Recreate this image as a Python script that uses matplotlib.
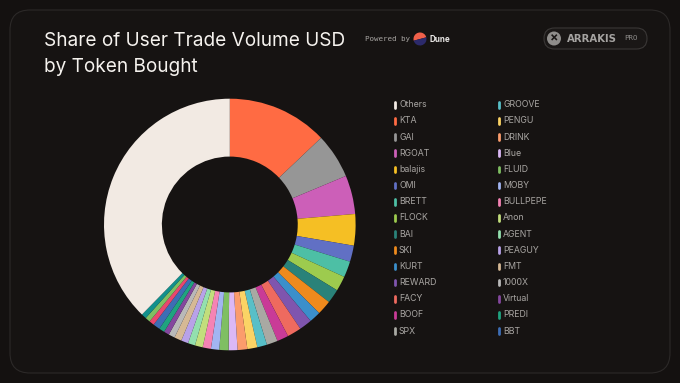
import numpy as np
import matplotlib
matplotlib.use('Agg')
import matplotlib.pyplot as plt
from matplotlib.patches import FancyBboxPatch, Circle, Wedge

# shares in percent, clockwise from 12 o'clock
tokens = ['KTA', 'GAI', 'RGOAT', 'balajis', 'OMI', 'BRETT', 'FLOCK', 'BAI', 'SKI', 'KURT',
          'REWARD', 'FACY', 'BOOF', 'SPX', 'GROOVE', 'PENGU', 'DRINK', 'Blue', 'FLUID', 'MOBY',
          'BULLPEPE', 'Anon', 'AGENT', 'PEAGUY', 'FMT', '1000X', 'Virtual', 'PREDI', 'BBT',
          'x1', 'x2', 'x3', 'Others']
shares = [12.92, 5.78, 4.97, 4.03, 2.08, 2.06, 1.92, 1.81, 1.86, 1.47,
          1.64, 1.81, 1.47, 1.42, 1.25, 1.28, 1.25, 1.14, 1.19, 1.06,
          1.06, 1.0, 0.92, 0.92, 0.94, 0.81, 0.69, 0.72, 0.89,
          0.65, 0.65, 0.65, 37.7]
colors = ['#FF6B43', '#969696', '#CC5FB8', '#F5BF24', '#6170C4', '#4DBFA5', '#9DCB4E', '#2A8279',
          '#EE8A1D', '#3B8FCB', '#7F55AE', '#EE6A5F', '#C93B97', '#A9A9A3', '#58BFC7', '#FBD365',
          '#FB9C6C', '#DBB8F5', '#7FBF62', '#A2B5F2', '#F583B4', '#C2DE7C', '#93E0AE', '#B8A2E8',
          '#D6B995', '#B9B9B9', '#84479E', '#1FA37F', '#3D6DB5',
          '#E9466E', '#7FBF62', '#12908C', '#F2EAE3']

legend_left = ['Others', 'KTA', 'GAI', 'RGOAT', 'balajis', 'OMI', 'BRETT', 'FLOCK', 'BAI', 'SKI',
               'KURT', 'REWARD', 'FACY', 'BOOF', 'SPX']
legend_right = ['GROOVE', 'PENGU', 'DRINK', 'Blue', 'FLUID', 'MOBY', 'BULLPEPE', 'Anon', 'AGENT',
                'PEAGUY', 'FMT', '1000X', 'Virtual', 'PREDI', 'BBT']

plt.rcParams['font.family'] = ['Inter', 'DejaVu Sans']

fig = plt.figure(figsize=(6.8, 3.83), dpi=100, facecolor='#141110')
bg = fig.add_axes([0, 0, 1, 1])
bg.set_xlim(0, 680)
bg.set_ylim(383, 0)
bg.axis('off')
bg.add_patch(FancyBboxPatch((10, 10), 660, 363, boxstyle='round,pad=0,rounding_size=20',
                            fc='#161312', ec='#2C2928', lw=0.8))

# title
bg.text(44, 41, 'Share of User Trade Volume USD', fontsize=13.7, color='#F5F2EE', va='center')
bg.text(44, 67, 'by Token Bought', fontsize=13.7, color='#F5F2EE', va='center')

# powered by dune
bg.text(365, 39.5, 'Powered by', fontsize=5.4, color='#A8A5A2', va='center', family='DejaVu Sans Mono')
bg.add_patch(Wedge((420, 39), 6.5, 165, 345, fc='#F0604A', ec='none'))
bg.add_patch(Wedge((420, 39), 6.5, 345, 525, fc='#2C2A6B', ec='none'))
bg.text(430, 39.5, 'Dune', fontsize=5.8, color='#E8E6E4', va='center', fontweight='bold')

# arrakis badge
bg.add_patch(FancyBboxPatch((544, 28), 103, 21, boxstyle='round,pad=0,rounding_size=10.5',
                            fc='#1A1716', ec='#3A3736', lw=0.8))
bg.add_patch(Circle((554, 38.5), 7, fc='#8F8D8B', ec='none'))
bg.text(554, 38.5, '×', fontsize=9, color='#1A1716', ha='center', va='center', fontweight='bold')
bg.text(567, 39, 'ARRAKIS', fontsize=7.3, color='#A5A3A1', va='center', fontweight='bold',
        family='DejaVu Sans')
bg.text(624, 38.5, 'PRO', fontsize=5.4, color='#8D8B89', va='center', family='DejaVu Sans Mono')

# donut
ax = fig.add_axes([104 / 680, 1 - 350.3 / 383, 251.6 / 680, 251.6 / 383])
ax.pie(shares, colors=colors, startangle=90, counterclock=False, radius=1,
       wedgeprops={'width': 0.46, 'linewidth': 0})
ax.set_xlim(-1, 1)
ax.set_ylim(-1, 1)

# legend
color_of = dict(zip(tokens, colors))
for x, names in ((393.3, legend_left), (497.3, legend_right)):
    for i, name in enumerate(names):
        y = 104.7 + i * 16.17
        bg.plot([x + 1.3, x + 1.3], [y - 2.8, y + 2.8], color=color_of[name], lw=2.0,
                solid_capstyle='round')
        bg.text(x + 5.7, y, name, fontsize=6.3, color='#A9A6A3', va='center')

fig.savefig('out.png', dpi=100, facecolor=fig.get_facecolor())
